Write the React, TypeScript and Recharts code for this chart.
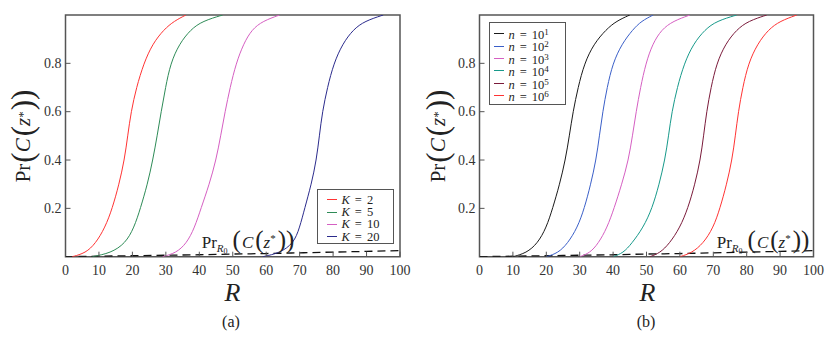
import React from "react";
import { LineChart, Line, XAxis, YAxis, ReferenceArea } from "recharts";

const SERIF = '"Liberation Serif", "DejaVu Serif", serif';

const levels = [0, 0.015, 0.055, 0.12, 0.2, 0.3, 0.4, 0.5, 0.6, 0.7, 0.8, 0.88, 0.94, 0.975, 1];

// panel (a): R where each curve crosses the levels above
const rK2 = [2, 6, 9, 11.8, 14, 16, 17.6, 18.6, 19.6, 21.2, 23.4, 26, 29.4, 32.5, 36];
const rK5 = [8, 13.5, 17.9, 20.5, 22.4, 24.5, 26.1, 27.4, 28.6, 29.9, 31.4, 34, 37.4, 41, 47];
const rK10 = [29, 33, 36.2, 38.6, 40.5, 43, 45, 46.4, 47.7, 49.2, 51, 53.2, 55.7, 59, 64];
const rK20 = [59, 64, 68.2, 70, 71.5, 73.5, 75, 75.9, 76.8, 78.3, 80.2, 82.8, 86, 89.5, 95];

// panel (b)
const rN1 = [10, 14, 17.4, 20, 21.9, 24, 25.7, 26.9, 28, 29.5, 31.4, 34.2, 37.9, 41, 45];
const rN2 = [20, 23.5, 26.4, 29.3, 31.4, 33.3, 34.9, 35.9, 36.9, 38.2, 39.9, 42.6, 45.9, 48.5, 52];
const rN3 = [30, 33, 35.6, 38.2, 40.3, 42.6, 44.6, 45.8, 46.9, 48.2, 49.8, 51.8, 54.5, 58, 63];
const rN4 = [40, 43, 45.6, 49, 51.7, 53.8, 55.5, 56.6, 57.6, 59.2, 61.3, 64, 67.5, 71, 77];
const rN5 = [51, 54, 56.9, 60, 62.4, 64.5, 66.1, 67.1, 68, 69.3, 71, 73.6, 77, 80.5, 86];
const rN6 = [60, 63.5, 67, 70, 72, 74, 75.6, 76.6, 77.5, 78.8, 80.5, 83.2, 86.5, 90, 95];

// dashed baseline Pr_R0
const baseR = [0, 10, 20, 30, 40, 50, 60, 70, 80, 90, 100];
const baseP = [0, 0.002, 0.004, 0.006, 0.008, 0.011, 0.013, 0.016, 0.019, 0.022, 0.025];

const kValues = [2, 5, 10, 20];
const kColors = ["#ff3333", "#2e8b57", "#d55fc2", "#2b2b8c"];
const nExps = [1, 2, 3, 4, 5, 6];
const nColors = ["#1a1a1a", "#3a5fc8", "#d55fc2", "#17998a", "#7a1a3a", "#ff3333"];

const xTicks = [0, 10, 20, 30, 40, 50, 60, 70, 80, 90, 100];
const yTicks = [0.2, 0.4, 0.6, 0.8];

const toPoints = (rs: number[], ps: number[]) => rs.map((R, i) => ({ R, p: ps[i] }));
const baseline = toPoints(baseR, baseP);

const seriesA = [rK2, rK5, rK10, rK20].map((r, i) => ({
  key: "K" + kValues[i],
  color: kColors[i],
  data: toPoints(r, levels),
  label: (
    <>
      <i>K</i>
      <span style={{ margin: "0 5px" }}>=</span>
      {kValues[i]}
    </>
  ),
}));

const seriesB = [rN1, rN2, rN3, rN4, rN5, rN6].map((r, i) => ({
  key: "n" + nExps[i],
  color: nColors[i],
  data: toPoints(r, levels),
  label: (
    <>
      <i>n</i>
      <span style={{ margin: "0 5px" }}>=</span>
      10
      <span style={{ fontSize: 9, verticalAlign: 4 }}>{nExps[i]}</span>
    </>
  ),
}));

const XTick = (props: any) => {
  const { x, y, payload } = props;
  return (
    <g>
      <line x1={x} y1={y} x2={x} y2={y - 5} stroke="#555" />
      <text x={x} y={y + 18} textAnchor="middle" fontSize={14} fontFamily={SERIF} fill="#333">
        {payload.value}
      </text>
    </g>
  );
};

const YTick = (props: any) => {
  const { x, y, payload } = props;
  return (
    <g>
      <line x1={x} y1={y} x2={x + 5} y2={y} stroke="#555" />
      <text x={x - 4} y={y + 4.5} textAnchor="end" fontSize={14} fontFamily={SERIF} fill="#333">
        {payload.value}
      </text>
    </g>
  );
};

const bigParen = (c: string, size: number, ml = 0) => (
  <span style={{ fontSize: size, marginLeft: ml, fontStyle: "normal" }}>{c}</span>
);

const YLabel = ({ cx, cy }: { cx: number; cy: number }) => (
  <div
    style={{
      position: "absolute",
      left: cx - 60,
      top: cy - 18,
      width: 120,
      height: 36,
      transform: "rotate(-90deg)",
      display: "flex",
      alignItems: "center",
      justifyContent: "center",
      fontFamily: SERIF,
      fontSize: 21,
      color: "#222",
      whiteSpace: "nowrap",
      lineHeight: "36px",
    }}
  >
    <span>Pr</span>
    {bigParen("(", 31, 1)}
    <i>C</i>
    {bigParen("(", 31, 2)}
    <i>z</i>
    <span style={{ fontSize: 13, verticalAlign: 8 }}>*</span>
    {bigParen(")", 31, 1)}
    {bigParen(")", 31)}
  </div>
);

const PrR0 = ({ left, top }: { left: number; top: number }) => (
  <div
    style={{
      position: "absolute",
      left,
      top,
      height: 28,
      lineHeight: "28px",
      fontFamily: SERIF,
      fontSize: 17,
      color: "#222",
      whiteSpace: "nowrap",
    }}
  >
    <span>Pr</span>
    <span style={{ fontSize: 11, fontStyle: "italic", verticalAlign: -4 }}>
      R<span style={{ fontSize: 8, fontStyle: "normal", verticalAlign: -2 }}>0</span>
    </span>
    {bigParen("(", 25, 5)}
    <i style={{ marginLeft: 1 }}>C</i>
    {bigParen("(", 25, 2)}
    <i>z</i>
    <span style={{ fontSize: 11, verticalAlign: 6 }}>*</span>
    {bigParen(")", 25, 2)}
    {bigParen(")", 25)}
  </div>
);

const Legend = ({ items, left, top, width, height, padTop, padLeft }: any) => (
  <div
    style={{
      position: "absolute",
      left,
      top,
      width,
      height,
      boxSizing: "border-box",
      border: "1.3px solid #555",
      background: "#fff",
      paddingTop: padTop,
      paddingLeft: padLeft,
      fontFamily: SERIF,
      fontSize: 12.5,
      color: "#222",
    }}
  >
    {items.map((s: any) => (
      <div key={s.key} style={{ height: 12.4, lineHeight: "12.4px", display: "flex", alignItems: "center", whiteSpace: "nowrap" }}>
        <span style={{ display: "inline-block", width: 10, borderTop: `1.3px solid ${s.color}`, marginRight: 5 }} />
        <span>{s.label}</span>
      </div>
    ))}
  </div>
);

const Panel = ({ series, offset, mLeft, mRight, caption }: any) => (
  <div style={{ position: "absolute", left: offset, top: 0, width: 415, height: 341 }}>
    <LineChart width={415} height={341} margin={{ top: 15, right: mRight, bottom: 54.3, left: mLeft }}>
      <XAxis
        type="number"
        dataKey="R"
        domain={[0, 100]}
        ticks={xTicks}
        height={30}
        tickSize={0}
        tickMargin={0}
        axisLine={false}
        tickLine={false}
        tick={<XTick />}
        allowDataOverflow
      />
      <YAxis
        type="number"
        dataKey="p"
        domain={[0, 1]}
        ticks={yTicks}
        width={60}
        tickSize={0}
        tickMargin={0}
        axisLine={false}
        tickLine={false}
        tick={<YTick />}
        allowDataOverflow
      />
      <Line
        data={baseline}
        dataKey="p"
        type="monotone"
        stroke="#111"
        strokeWidth={1.3}
        strokeDasharray="8 5"
        dot={false}
        activeDot={false}
        isAnimationActive={false}
      />
      {series.map((s: any) => (
        <Line
          key={s.key}
          data={s.data}
          dataKey="p"
          type="basis"
          stroke={s.color}
          strokeWidth={1}
          dot={false}
          activeDot={false}
          isAnimationActive={false}
        />
      ))}
      <ReferenceArea x1={0} x2={100} y1={0} y2={1} fill="none" stroke="#555" strokeWidth={1.5} ifOverflow="visible" />
    </LineChart>
    <YLabel cx={23} cy={135.5} />
    <div
      style={{
        position: "absolute",
        left: 0,
        width: 465,
        top: 280,
        lineHeight: 1,
        fontFamily: SERIF,
        fontSize: 26,
        fontStyle: "italic",
        color: "#222",
        textAlign: "center",
      }}
    >
      R
    </div>
    <div
      style={{
        position: "absolute",
        left: 0,
        width: 462,
        top: 313.5,
        lineHeight: 1,
        fontFamily: SERIF,
        fontSize: 16,
        color: "#222",
        textAlign: "center",
      }}
    >
      {caption}
    </div>
  </div>
);

export default function App() {
  return (
    <div style={{ position: "absolute", left: 0, top: 0, width: 830, height: 341, background: "#fff" }}>
      <Panel series={seriesA} offset={0} mLeft={5.5} mRight={15} caption="(a)" />
      <Panel series={seriesB} offset={415} mLeft={4.5} mRight={16.5} caption="(b)" />
      <Legend items={seriesA} left={316.5} top={188.5} width={77} height={55} padTop={4} padLeft={9} />
      <Legend items={seriesB} left={488.5} top={21.5} width={77} height={83.5} padTop={5} padLeft={4} />
      <PrR0 left={201.7} top={224} />
      <PrR0 left={716.7} top={224} />
    </div>
  );
}
